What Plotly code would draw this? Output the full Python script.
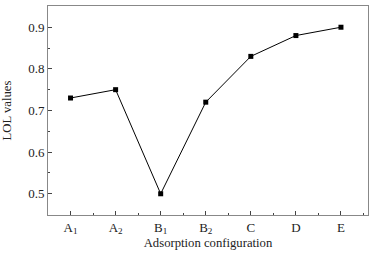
import plotly.graph_objects as go

categories = ["A<sub>1</sub>", "A<sub>2</sub>", "B<sub>1</sub>", "B<sub>2</sub>", "C", "D", "E"]
lol_values = [0.73, 0.75, 0.50, 0.72, 0.83, 0.88, 0.90]
y_ticks = [0.5, 0.6, 0.7, 0.8, 0.9]

xs = list(range(len(categories)))
fig = go.Figure(go.Scatter(
    x=xs, y=lol_values, mode="lines+markers",
    line=dict(color="black", width=1),
    marker=dict(symbol="square", size=5, color="black"),
))
font = dict(family="Liberation Serif", size=13, color="#222")
title_font = dict(family="Liberation Serif", size=12.7, color="#222")
axis_common = dict(showline=True, linecolor="#888", linewidth=1, mirror=True,
                   ticks="inside", ticklen=4, tickcolor="#444", showgrid=False,
                   zeroline=False, tickfont=font, automargin=False)
fig.update_xaxes(tickmode="array", tickvals=xs, ticktext=categories,
                 range=[-0.5, 6.6],
                 minor=dict(ticks="inside", ticklen=2, tickcolor="#444", dtick=0.5, tick0=0.5, showgrid=False),
                 title=dict(text="Adsorption configuration", font=title_font, standoff=2),
                 **axis_common)
fig.update_yaxes(tickmode="array", tickvals=y_ticks, ticktext=[f"{v:.1f}" for v in y_ticks],
                 range=[0.449, 0.951],
                 minor=dict(ticks="inside", ticklen=2, tickcolor="#444", dtick=0.05, tick0=0.45, showgrid=False),
                 title=dict(text="LOL values", font=title_font, standoff=16),
                 **axis_common)
fig.update_layout(width=370, height=254, margin=dict(l=48, r=2, t=6, b=39),
                  plot_bgcolor="white", paper_bgcolor="white", showlegend=False)
fig.write_html("out.html", config={"displayModeBar": False},
               post_script="document.body.style.margin='0';")
